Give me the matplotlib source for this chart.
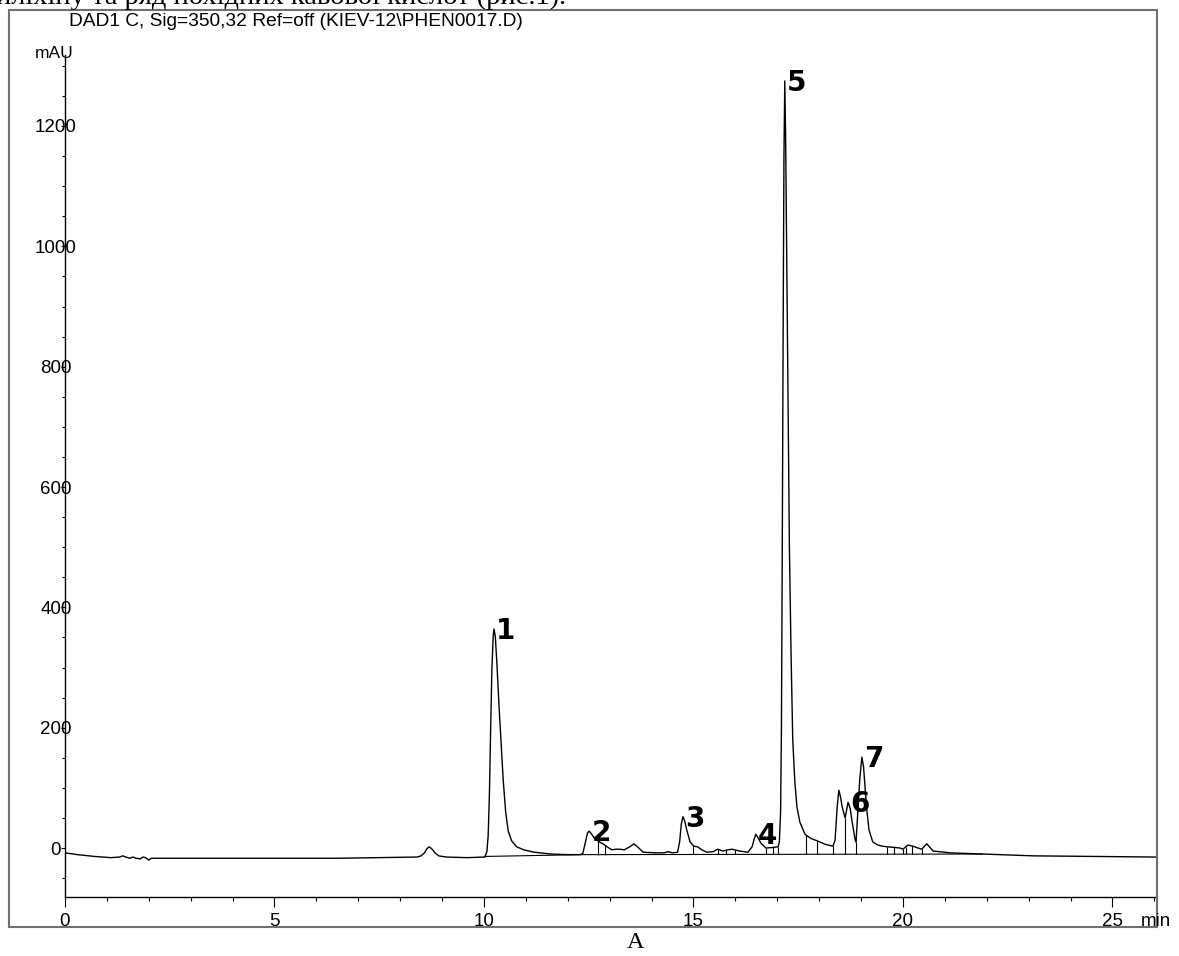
import matplotlib
matplotlib.use('Agg')
import matplotlib.pyplot as plt
import numpy as np
from matplotlib.patches import Rectangle
from matplotlib.ticker import MultipleLocator

plt.rcParams['font.family'] = ['Liberation Sans', 'DejaVu Sans']

# signal trace: time (min), absorbance (mAU)
time_min = [0.00, 0.30, 0.70, 1.10, 1.30, 1.38, 1.45, 1.55, 1.62, 1.70, 1.80, 1.86, 1.92, 2.00, 2.06,
            2.40, 3.50, 5.00, 6.50, 7.50, 8.40, 8.50, 8.58, 8.64, 8.69, 8.75, 8.83, 8.92, 9.10, 9.60,
            10.02, 10.07, 10.10, 10.13, 10.16, 10.19, 10.22, 10.24, 10.27, 10.31, 10.36, 10.41, 10.46,
            10.52, 10.58, 10.66, 10.78, 10.95, 11.20, 11.60, 12.00, 12.30, 12.36, 12.42, 12.47, 12.51,
            12.56, 12.63, 12.70, 12.78, 12.84, 12.92, 13.05, 13.15, 13.25, 13.35, 13.48, 13.58, 13.68,
            13.80, 14.10, 14.30, 14.40, 14.50, 14.62, 14.67, 14.71, 14.75, 14.79, 14.84, 14.92, 15.01,
            15.10, 15.20, 15.32, 15.47, 15.58, 15.70, 15.82, 15.92, 16.10, 16.30, 16.40, 16.45, 16.49,
            16.55, 16.61, 16.73, 16.90, 17.02, 17.05, 17.08, 17.10, 17.12, 17.14, 17.16, 17.18, 17.20,
            17.23, 17.26, 17.29, 17.33, 17.37, 17.42, 17.47, 17.54, 17.66, 17.80, 17.95, 18.15, 18.33,
            18.38, 18.43, 18.47, 18.51, 18.55, 18.62, 18.69, 18.74, 18.78, 18.86, 18.88, 18.93, 18.97,
            19.02, 19.06, 19.13, 19.19, 19.28, 19.40, 19.52, 19.62, 19.80, 19.93, 20.00, 20.12, 20.24,
            20.36, 20.45, 20.57, 20.72, 21.12, 21.90, 23.10, 24.70, 26.04]
signal_mau = [-8, -11, -14, -16, -15, -13, -15, -17, -15, -17, -18, -15, -16, -20, -17,
              -17, -17, -17, -17, -16, -15, -13, -8, -1, 2, -1, -8, -13, -15, -16,
              -15, -6, 20, 90, 200, 300, 352, 364, 352, 305, 235, 172, 112,
              58, 28, 12, 2, -3, -7, -10, -11, -11, -9, 10, 25, 28,
              24, 17, 13, 9, 7, 3, -3, -2, -2, -3, 2, 7, 1,
              -7, -8, -8, -6, -8, -7, 10, 40, 52, 45, 30, 10, 3,
              2, -3, -7, -6, -2, -5, -3, -2, -5, -7, 2, 15, 23,
              16, 8, 0, 1, 2, 10, 60, 200, 500, 850, 1150, 1275, 1180,
              950, 720, 500, 320, 180, 110, 68, 43, 23, 16, 12, 6, 3,
              13, 68, 96, 85, 68, 50, 76, 66, 47, 13, 10, 68, 115,
              151, 135, 68, 30, 10, 5, 3, 2, 1, 0, -2, 5, 3,
              0, -2, 7, -5, -8, -10, -13, -14, -15]

# integration baseline and drop lines between peaks
base_time = [10.02, 12.36, 21.9]
base_mau = [-14, -11, -10]
drop_times = [12.72, 12.89, 14.99, 15.58, 15.78, 15.99, 16.73, 16.90, 17.02, 17.69, 17.95, 18.33,
              18.62, 18.88, 19.62, 19.79, 20.00, 20.07, 20.21, 20.45]

# numbered peaks
peak_names = ['1', '2', '3', '4', '5', '6', '7']
peak_rt = [10.24, 12.51, 14.75, 16.49, 17.18, 18.69, 19.02]
peak_height = [364, 28, 52, 23, 1275, 76, 151]

x_ticks = [0, 5, 10, 15, 20, 25]
y_ticks = [0, 200, 400, 600, 800, 1000, 1200]

W, H = 1179, 956
fig = plt.figure(figsize=(W / 100, H / 100), dpi=100)

# outer grey frame
fig.patches.append(Rectangle((9 / W, (H - 927) / H), (1157 - 9) / W, (927 - 10) / H,
                             transform=fig.transFigure, fill=False, edgecolor='#707070', lw=1.5))

ax = fig.add_axes([65 / W, (H - 897) / H, (1156 - 65) / W, (897 - 55) / H])
ax.plot(time_min, signal_mau, color='black', lw=1.0)
ax.plot(base_time, base_mau, color='black', lw=0.8)
ax.vlines(drop_times, np.interp(drop_times, base_time, base_mau),
          np.interp(drop_times, time_min, signal_mau), colors='black', lw=0.8)

for name, rt, h in zip(peak_names, peak_rt, peak_height):
    ax.annotate(name, (rt, h), xytext=(8.6, -7.2), textcoords='offset points',
                ha='center', va='baseline', fontsize=20, fontweight='bold', family='DejaVu Sans')

ax.set_xlim(0, 26.04)
ax.set_ylim(-81.4, 1318)
for s in ['top', 'right']:
    ax.spines[s].set_visible(False)
for s in ['left', 'bottom']:
    ax.spines[s].set_linewidth(1.0)

ax.set_xticks(x_ticks)
ax.xaxis.set_minor_locator(MultipleLocator(1))
ax.tick_params(axis='x', which='major', direction='out', length=7.2, width=0.8, pad=4.3, labelsize=13.5)
ax.tick_params(axis='x', which='minor', direction='out', length=2.8, width=0.8)
ax.set_yticks(y_ticks)
ax.yaxis.set_minor_locator(MultipleLocator(50))
ax.tick_params(axis='y', which='major', direction='out', length=3, width=0.8, pad=3.5, labelsize=13.5)
ax.tick_params(axis='y', which='minor', direction='out', length=2.2, width=0.8)
for lbl in ax.get_yticklabels():
    lbl.set_horizontalalignment('center')

fig.text(54 / W, 1 - 54 / H, 'mAU', ha='center', va='center', fontsize=12.5)
fig.text(1156 / W, 1 - 913 / H, 'min', ha='center', va='top', fontsize=13.5)
fig.text(296 / W, 1 - 21 / H, 'DAD1 C, Sig=350,32 Ref=off (KIEV-12\\PHEN0017.D)',
         ha='center', va='center', fontsize=13.75)

# line of body text cut off at the top of the page, and the figure letter below
fig.text(-4 / W, 1 - 4 / H, 'иліхіну та ряд похідних кавової кислот (рис.1).',
         ha='left', va='baseline', fontsize=20.5, family='Liberation Serif')
fig.text(636 / W, 1 - 943 / H, 'A', ha='center', va='center', fontsize=17.5, family='Liberation Serif')

fig.savefig('out.png', dpi=100)
